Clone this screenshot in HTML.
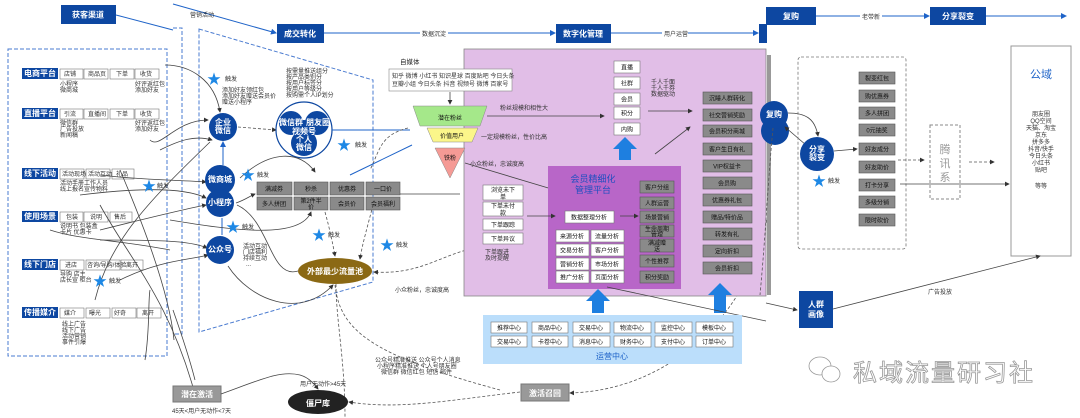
<!DOCTYPE html>
<html><head><meta charset="utf-8"><style>
html,body{margin:0;padding:0;background:#fff;}
svg{display:block;font-family:"Liberation Sans","Noto Sans CJK SC",sans-serif;}
.t{font-size:6px;fill:#333;}
.g{fill:#8a8a8a;stroke:#555;stroke-width:0.6;}
.gw{font-size:6px;fill:#111;text-anchor:middle;}
.w{fill:#fff;stroke:#777;stroke-width:0.6;}
.bb{fill:#0d47a1;}
.bt{fill:#fff;font-size:8px;font-weight:bold;text-anchor:middle;}
.ln{stroke:#444;stroke-width:0.8;fill:none;}
.dl{stroke:#555;stroke-width:0.8;fill:none;stroke-dasharray:3 2;}
.bl{stroke:#1e63c8;stroke-width:1;fill:none;}
</style></head><body>
<svg width="1080" height="418" viewBox="0 0 1080 418" xmlns="http://www.w3.org/2000/svg">
<defs>
<marker id="a" markerWidth="6" markerHeight="6" refX="5" refY="3" orient="auto"><path d="M0,0 L6,3 L0,6z" fill="#333"/></marker>
<marker id="ab" markerWidth="6" markerHeight="6" refX="5" refY="3" orient="auto"><path d="M0,0 L6,3 L0,6z" fill="#1e63c8"/></marker>
</defs>

<rect x="61" y="5" width="55" height="19" class="bb"/><text x="88" y="17.5" class="bt">获客渠道</text>
<line x1="116" y1="15" x2="173" y2="30" class="bl"/>
<line x1="173" y1="4" x2="276" y2="33" class="bl" marker-end="url(#ab)"/>
<text x="190" y="17" class="t" font-size="7">营销活动</text>
<rect x="277" y="24" width="47" height="19" class="bb"/><text x="300" y="36.5" class="bt">成交转化</text>
<line x1="324" y1="33" x2="555" y2="33" class="bl" marker-end="url(#ab)"/>
<rect x="420" y="29" width="28" height="8" fill="#fff"/><text x="422" y="36" class="t" fill="#666">数据沉淀</text>
<rect x="556" y="24" width="55" height="19" class="bb"/><text x="583" y="36.5" class="bt">数字化管理</text>
<line x1="611" y1="33" x2="758" y2="33" class="bl" marker-end="url(#ab)"/>
<rect x="662" y="29" width="26" height="8" fill="#fff"/><text x="664" y="36" class="t" fill="#666">用户运营</text>
<rect x="759" y="24" width="8" height="19" class="bb"/>
<rect x="766" y="7" width="50" height="18" class="bb"/><text x="791" y="19" class="bt">复购</text>
<line x1="816" y1="16" x2="929" y2="16" class="bl" marker-end="url(#ab)"/>
<rect x="860" y="12" width="22" height="8" fill="#fff"/><text x="862" y="19" class="t" fill="#666">老带新</text>
<rect x="930" y="7" width="56" height="18" class="bb"/><text x="958" y="19" class="bt">分享裂变</text>
<line x1="986" y1="16" x2="1066" y2="16" class="bl" marker-end="url(#ab)"/>

<rect x="8" y="49" width="159" height="307" fill="none" stroke="#4a7bd0" stroke-dasharray="4 2" stroke-width="1"/>
<polyline points="173,28 182,28 182,334 173,334" fill="none" stroke="#4a7bd0" stroke-dasharray="4 2" stroke-width="1"/>
<polygon points="199,29 373,80 373,282 199,332" fill="none" stroke="#4a7bd0" stroke-dasharray="4 2" stroke-width="1"/>

<g>
<rect x="22" y="68" width="36" height="11" class="bb"/><text x="40" y="76" class="bt" font-size="6">电商平台</text>
<rect x="60" y="69" width="23" height="10" class="w"/><rect x="84" y="69" width="24" height="10" class="w"/><rect x="110" y="69" width="24" height="10" class="w"/><rect x="135" y="69" width="24" height="10" class="w"/>
<text x="64" y="76" class="t" font-size="5">店铺</text><text x="88" y="76" class="t" font-size="5">商品页</text><text x="116" y="76" class="t" font-size="5">下单</text><text x="140" y="76" class="t" font-size="5">收货</text>
<text x="60" y="86" class="t" font-size="5">小程序</text><text x="60" y="92" class="t" font-size="5">微商城</text><text x="135" y="86" class="t" font-size="5">好评返红包</text><text x="135" y="92" class="t" font-size="5">添加好友</text>

<rect x="22" y="108" width="36" height="11" class="bb"/><text x="40" y="116" class="bt" font-size="6">直播平台</text>
<rect x="60" y="109" width="23" height="10" class="w"/><rect x="84" y="109" width="24" height="10" class="w"/><rect x="110" y="109" width="24" height="10" class="w"/><rect x="135" y="109" width="24" height="10" class="w"/>
<text x="64" y="116" class="t" font-size="5">引流</text><text x="88" y="116" class="t" font-size="5">直播间</text><text x="116" y="116" class="t" font-size="5">下单</text><text x="140" y="116" class="t" font-size="5">收货</text>
<text x="60" y="125" class="t" font-size="5">微信群</text><text x="60" y="131" class="t" font-size="5">广告投放</text><text x="60" y="137" class="t" font-size="5">新闻稿</text><text x="135" y="125" class="t" font-size="5">好评返红包</text><text x="135" y="131" class="t" font-size="5">添加好友</text>

<rect x="22" y="168" width="36" height="11" class="bb"/><text x="40" y="176" class="bt" font-size="6">线下活动</text>
<rect x="60" y="169" width="24" height="10" class="w"/><rect x="86" y="169" width="24" height="10" class="w"/><rect x="112" y="169" width="22" height="10" class="w"/>
<text x="62" y="176" class="t" font-size="5">活动现场</text><text x="88" y="176" class="t" font-size="5">活动互动</text><text x="116" y="176" class="t" font-size="5">礼品</text>
<text x="60" y="185" class="t" font-size="5">活动手册</text><text x="60" y="191" class="t" font-size="5">线上报名</text><text x="84" y="185" class="t" font-size="5">工作人员</text><text x="84" y="191" class="t" font-size="5">宣传物料</text>

<rect x="22" y="211" width="36" height="11" class="bb"/><text x="40" y="219" class="bt" font-size="6">使用场景</text>
<rect x="60" y="212" width="23" height="10" class="w"/><rect x="84" y="212" width="24" height="10" class="w"/><rect x="110" y="212" width="22" height="10" class="w"/>
<text x="66" y="219" class="t" font-size="5">包装</text><text x="90" y="219" class="t" font-size="5">说明</text><text x="114" y="219" class="t" font-size="5">售后</text>
<text x="60" y="228" class="t" font-size="5">说明书  包装盒</text><text x="60" y="234" class="t" font-size="5">卡片  优惠卡</text>

<rect x="22" y="259" width="36" height="11" class="bb"/><text x="40" y="267" class="bt" font-size="6">线下门店</text>
<rect x="60" y="260" width="24" height="10" class="w"/><rect x="86" y="260" width="34" height="10" class="w"/><rect x="121" y="260" width="22" height="10" class="w"/>
<text x="65" y="267" class="t" font-size="5">进店</text><text x="87" y="267" class="t" font-size="5">咨询/导购/体验</text><text x="126" y="267" class="t" font-size="5">离开</text>
<text x="60" y="276" class="t" font-size="5">导购  店主</text><text x="60" y="282" class="t" font-size="5">店长宣  柜台</text>

<rect x="22" y="307" width="36" height="11" class="bb"/><text x="40" y="315" class="bt" font-size="6">传播媒介</text>
<rect x="60" y="308" width="24" height="10" class="w"/><rect x="86" y="308" width="24" height="10" class="w"/><rect x="112" y="308" width="24" height="10" class="w"/><rect x="137" y="308" width="24" height="10" class="w"/>
<text x="64" y="315" class="t" font-size="5">媒介</text><text x="89" y="315" class="t" font-size="5">曝光</text><text x="114" y="315" class="t" font-size="5">好奇</text><text x="142" y="315" class="t" font-size="5">离开</text>
<text x="62" y="326" class="t" font-size="5">线上广告</text><text x="62" y="332" class="t" font-size="5">线下广告</text><text x="62" y="338" class="t" font-size="5">活动营销</text><text x="62" y="344" class="t" font-size="5">事件引爆</text>
</g>

<path d="M165,65 C190,65 215,80 220,112" class="ln" marker-end="url(#a)"/>
<path d="M150,140 C160,150 175,120 208,120" class="ln" marker-end="url(#a)"/>
<path d="M160,150 C180,140 195,135 212,140" class="ln" marker-end="url(#a)"/>
<path d="M100,175 C140,180 180,180 206,182" class="ln" marker-end="url(#a)"/>
<path d="M80,195 C120,190 180,185 206,198" class="ln" marker-end="url(#a)"/>
<path d="M100,230 C140,220 180,210 206,205" class="ln" marker-end="url(#a)"/>
<path d="M100,240 C150,240 190,240 207,248" class="ln" marker-end="url(#a)"/>
<path d="M120,280 C160,260 190,260 208,255" class="ln" marker-end="url(#a)"/>
<path d="M95,300 C110,240 150,200 210,142" class="ln"/>
<path d="M100,205 C130,260 170,300 196,398" class="ln" marker-end="url(#a)"/>
<path d="M120,170 C150,240 170,300 174,340" class="ln"/>
<path d="M145,360 C150,330 148,300 150,290" class="ln"/>
<path d="M50,230 C80,240 120,240 170,250" class="ln"/>
<path d="M173,310 C180,330 190,360 195,380" class="ln"/>

<circle cx="223" cy="127" r="14" class="bb"/><text x="223" y="125" class="bt" font-size="6">企业</text><text x="223" y="133" class="bt" font-size="6">微信</text>
<line x1="223" y1="165" x2="223" y2="142" stroke="#1e63c8" stroke-width="1" marker-end="url(#ab)"/>
<circle cx="220" cy="180" r="15" class="bb"/><text x="220" y="182" class="bt" font-size="6">微商城</text>
<circle cx="220" cy="203" r="14" class="bb"/><text x="220" y="205" class="bt" font-size="6">小程序</text>
<line x1="222" y1="218" x2="222" y2="235" stroke="#1e63c8" stroke-width="1"/>
<circle cx="220" cy="250" r="14" class="bb"/><text x="220" y="252" class="bt" font-size="6">公众号</text>
<text x="243" y="248" class="t" font-size="5">活动互动</text><text x="243" y="254" class="t" font-size="5">门店福利</text><text x="243" y="260" class="t" font-size="5">持续互动</text><text x="246" y="266" class="t" font-size="5">...</text>
<text x="222" y="92" class="t" font-size="5">添加好友领红包</text><text x="222" y="98" class="t" font-size="5">添加好友赠送会员价</text><text x="222" y="104" class="t" font-size="5">赠送小程序</text>

<line x1="238" y1="127" x2="276" y2="130" class="dl" marker-end="url(#a)"/>
<circle cx="304" cy="130" r="28" fill="#fff" stroke="#0d47a1" stroke-width="1.2"/>
<circle cx="291" cy="123" r="12" class="bb"/><circle cx="317" cy="123" r="12" class="bb"/><circle cx="304" cy="143" r="13" class="bb"/><circle cx="304" cy="129" r="9" class="bb"/>
<text x="291" y="125" class="bt" font-size="6">微信群</text><text x="318" y="125" class="bt" font-size="6">朋友圈</text><text x="304" y="134" class="bt" font-size="6">视频号</text><text x="304" y="142" class="bt" font-size="6">个人</text><text x="304" y="150" class="bt" font-size="6">微信</text>
<text x="286" y="73" class="t" font-size="5">按需量推送组分</text><text x="286" y="79" class="t" font-size="5">按产品类别分</text><text x="286" y="85" class="t" font-size="5">按用户标签分</text><text x="286" y="91" class="t" font-size="5">按用户等级分</text><text x="286" y="97" class="t" font-size="5">按购需个人IP划分</text>
<line x1="332" y1="130" x2="410" y2="130" class="bl"/>

<g>
<rect x="257" y="182" width="35" height="13" class="g"/><text x="274" y="191" class="gw">满减券</text>
<rect x="294" y="182" width="34" height="13" class="g"/><text x="311" y="191" class="gw">秒杀</text>
<rect x="330" y="182" width="34" height="13" class="g"/><text x="347" y="191" class="gw">优惠券</text>
<rect x="366" y="182" width="34" height="13" class="g"/><text x="383" y="191" class="gw">一口价</text>
<rect x="257" y="197" width="35" height="13" class="g"/><text x="274" y="206" class="gw">多人拼团</text>
<rect x="294" y="197" width="34" height="13" class="g"/><text x="311" y="203" class="gw">第2件半</text><text x="311" y="209" class="gw">价</text>
<rect x="330" y="197" width="34" height="13" class="g"/><text x="347" y="206" class="gw">会员价</text>
<rect x="366" y="197" width="34" height="13" class="g"/><text x="383" y="206" class="gw">会员福利</text>
</g>
<path d="M240,178 C270,150 300,150 315,172" class="ln" marker-end="url(#a)"/>
<path d="M236,203 C245,200 250,196 255,194" class="ln" marker-end="url(#a)"/>
<path d="M170,220 C230,230 300,240 311,212" class="ln" marker-end="url(#a)"/>
<path d="M400,194 L460,194" class="ln"/>
<path d="M325,212 C330,230 333,245 335,256" class="dl" marker-end="url(#a)"/>
<path d="M373,205 C368,225 362,245 360,259" class="dl" marker-end="url(#a)"/>
<path d="M237,205 C270,220 270,280 298,271" class="ln"/>
<path d="M228,266 C250,300 300,320 333,285" class="ln" marker-end="url(#a)"/>
<path d="M475,248 C440,255 420,275 374,272" class="dl" marker-end="url(#a)"/>
<ellipse cx="335" cy="271" rx="37" ry="13" fill="#8b6914"/><text x="335" y="274" class="bt" font-size="7">外部最少流量池</text>
<path d="M335,285 C340,330 370,355 500,390" class="dl"/>
<path d="M336,284 C336,320 345,360 345,418" class="dl"/>
<text x="375" y="362" class="t" font-size="5">公众号精准推送 公众号个人消息</text><text x="377" y="368" class="t" font-size="5">小程序精准推送 个人号朋友圈</text><text x="381" y="374" class="t" font-size="5">微信群 微信红包 短信 邮件</text>

<g fill="#1e88e5" font-size="5">
<text x="207" y="84" font-size="14">★</text><text x="225" y="81" class="t" font-size="5">触发</text>
<text x="337" y="150" font-size="14">★</text><text x="355" y="147" class="t" font-size="5">触发</text>
<text x="142" y="191" font-size="14">★</text><text x="157" y="188" class="t" font-size="5">触发</text>
<text x="241" y="180" font-size="14">★</text><text x="257" y="177" class="t" font-size="5">触发</text>
<text x="226" y="232" font-size="14">★</text><text x="242" y="229" class="t" font-size="5">触发</text>
<text x="312" y="240" font-size="14">★</text><text x="328" y="237" class="t" font-size="5">触发</text>
<text x="380" y="250" font-size="14">★</text><text x="396" y="247" class="t" font-size="5">触发</text>
<text x="93" y="286" font-size="14">★</text><text x="109" y="283" class="t" font-size="5">触发</text>
<text x="812" y="186" font-size="14">★</text><text x="828" y="183" class="t" font-size="5">触发</text>
</g>

<rect x="173" y="386" width="48" height="16" fill="#999" stroke="#777"/><text x="197" y="397" class="bt" font-size="8">潜在激活</text>
<text x="172" y="413" class="t" font-size="5">45天&lt;用户无动作&lt;7天</text>
<path d="M221,394 C260,380 280,370 300,375 C310,378 315,385 318,389" class="ln" marker-end="url(#a)"/>
<text x="300" y="386" class="t" font-size="5">用户无动作&gt;45天</text>
<ellipse cx="318" cy="402" rx="30" ry="12" fill="#222"/><text x="318" y="406" class="bt" font-size="8">僵尸库</text>
<path d="M520,392 C450,400 400,410 349,402" class="dl" marker-end="url(#a)"/>
<rect x="521" y="384" width="48" height="17" fill="#999" stroke="#777"/><text x="545" y="396" class="bt" font-size="8">激活召回</text>
<path d="M770,200 C760,300 680,390 570,393" class="dl" marker-end="url(#a)"/>

<rect x="767" y="55" width="4" height="240" fill="#999"/>
<rect x="464" y="49" width="302" height="247" fill="#e1bee7" stroke="#888" stroke-width="0.8"/>
<text x="400" y="64" font-size="6.5" fill="#222">自媒体</text>
<rect x="389" y="69" width="123" height="22" fill="#fff" stroke="#888" stroke-width="0.6"/>
<text x="392" y="78" class="t" font-size="5.5">知乎 微博 小红书 知识星球 百度贴吧 今日头条</text>
<text x="392" y="86" class="t" font-size="5.5">豆瓣小组 今日头条 抖音 视频号 微博 百家号</text>
<line x1="450" y1="92" x2="450" y2="104" class="ln" marker-end="url(#a)"/>
<polygon points="413,106 487,106 480,126 420,126" fill="#a5e88a" stroke="#888" stroke-width="0.5"/><text x="450" y="120" class="gw">潜在粉丝</text>
<polygon points="427,128 478,128 472,142 433,142" fill="#fbf68a" stroke="#888" stroke-width="0.5"/><text x="452" y="138" class="gw">价值用户</text>
<polygon points="435,148 465,148 450,178" fill="#f59a95" stroke="#888" stroke-width="0.5"/><text x="450" y="160" class="gw">铁粉</text>
<text x="500" y="110" class="t" font-size="5">粉丝规模和相性大</text>
<line x1="487" y1="116" x2="604" y2="116" class="ln" marker-end="url(#a)"/>
<text x="481" y="139" class="t" font-size="5">一定规模粉丝，性价比高</text>
<text x="470" y="166" class="t" font-size="5">小众粉丝，忠诚度高</text>
<line x1="465" y1="163" x2="555" y2="190" class="ln" marker-end="url(#a)"/>
<path d="M408,128 C380,135 380,150 370,170" class="dl"/>
<path d="M350,175 L412,145" class="bl"/>

<rect x="614" y="61" width="26" height="12" class="w"/><text x="627" y="69.5" class="gw">直播</text>
<rect x="614" y="77" width="26" height="12" class="w"/><text x="627" y="85.5" class="gw">社群</text>
<rect x="614" y="93" width="26" height="12" class="w"/><text x="627" y="101.5" class="gw">会员</text>
<rect x="614" y="107" width="26" height="12" class="w"/><text x="627" y="115.5" class="gw">积分</text>
<rect x="614" y="123" width="26" height="12" class="w"/><text x="627" y="131.5" class="gw">内购</text>
<text x="651" y="84" class="t" font-size="5">千人千面</text><text x="651" y="90" class="t" font-size="5">千人千券</text><text x="651" y="96" class="t" font-size="5">数据驱动</text>
<line x1="648" y1="111" x2="692" y2="111" class="ln" marker-end="url(#a)"/>
<line x1="655" y1="154" x2="690" y2="127" class="ln" marker-end="url(#a)"/>
<polygon points="625,137 637,149 631,149 631,160 619,160 619,149 613,149" fill="#1e7fe0"/>

<g>
<rect x="703" y="92" width="49" height="12" class="g"/><text x="727" y="100.5" class="gw">沉睡人群转化</text>
<rect x="703" y="109" width="49" height="12" class="g"/><text x="727" y="117.5" class="gw">社交营销奖励</text>
<rect x="703" y="125" width="49" height="12" class="g"/><text x="727" y="133.5" class="gw">会员积分商城</text>
<rect x="703" y="143" width="49" height="12" class="g"/><text x="727" y="151.5" class="gw">客户生日有礼</text>
<rect x="703" y="160" width="49" height="12" class="g"/><text x="727" y="168.5" class="gw">VIP权益卡</text>
<rect x="703" y="177" width="49" height="12" class="g"/><text x="727" y="185.5" class="gw">会员购</text>
<rect x="703" y="194" width="49" height="12" class="g"/><text x="727" y="202.5" class="gw">优惠券礼包</text>
<rect x="703" y="211" width="49" height="12" class="g"/><text x="727" y="219.5" class="gw">赠品/特价品</text>
<rect x="703" y="228" width="49" height="12" class="g"/><text x="727" y="236.5" class="gw">转发有礼</text>
<rect x="703" y="245" width="49" height="12" class="g"/><text x="727" y="253.5" class="gw">定向折扣</text>
<rect x="703" y="262" width="49" height="12" class="g"/><text x="727" y="270.5" class="gw">会员折扣</text>
</g>
<polygon points="720,283 732,295 726,295 726,313 714,313 714,295 708,295" fill="#1e7fe0"/>

<rect x="548" y="166" width="133" height="123" fill="#b866c8"/>
<text x="593" y="182" font-size="9" fill="#1e4fc0" text-anchor="middle">会员精细化</text>
<text x="593" y="193" font-size="9" fill="#1e4fc0" text-anchor="middle">管理平台</text>
<rect x="483" y="185" width="40" height="15" class="w"/><text x="503" y="192" class="gw">浏览未下</text><text x="503" y="199" class="gw">单</text>
<rect x="483" y="202" width="40" height="14" class="w"/><text x="503" y="208" class="gw">下单未付</text><text x="503" y="215" class="gw">款</text>
<rect x="483" y="219" width="40" height="11" class="w"/><text x="503" y="227" class="gw">下单跟踪</text>
<rect x="483" y="233" width="40" height="11" class="w"/><text x="503" y="241" class="gw">下单异议</text>
<text x="485" y="254" class="t" font-size="5" fill="#7a4aa0">下单跟进</text><text x="485" y="260" class="t" font-size="5" fill="#7a4aa0">及时提醒</text>
<text x="395" y="292" class="t" font-size="5">小众粉丝，忠诚度高</text>
<line x1="527" y1="216" x2="555" y2="216" class="ln" marker-end="url(#a)"/>
<rect x="565" y="211" width="49" height="12" class="w"/><text x="589" y="219.5" class="gw">数据整理分析</text>
<line x1="620" y1="216" x2="638" y2="216" class="ln" marker-end="url(#a)"/>
<g>
<rect x="556" y="230" width="33" height="12" class="w"/><text x="572" y="238.5" class="gw">来源分析</text>
<rect x="591" y="230" width="33" height="12" class="w"/><text x="607" y="238.5" class="gw">流量分析</text>
<rect x="556" y="244" width="33" height="12" class="w"/><text x="572" y="252.5" class="gw">交易分析</text>
<rect x="591" y="244" width="33" height="12" class="w"/><text x="607" y="252.5" class="gw">客户分析</text>
<rect x="556" y="258" width="33" height="12" class="w"/><text x="572" y="266.5" class="gw">营销分析</text>
<rect x="591" y="258" width="33" height="12" class="w"/><text x="607" y="266.5" class="gw">市场分析</text>
<rect x="556" y="271" width="33" height="12" class="w"/><text x="572" y="279.5" class="gw">推广分析</text>
<rect x="591" y="271" width="33" height="12" class="w"/><text x="607" y="279.5" class="gw">页面分析</text>
</g>
<g>
<rect x="640" y="181" width="34" height="12" class="g"/><text x="657" y="189.5" class="gw">客户分组</text>
<rect x="640" y="197" width="34" height="12" class="g"/><text x="657" y="205.5" class="gw">人群运营</text>
<rect x="640" y="211" width="34" height="12" class="g"/><text x="657" y="219.5" class="gw">场景营销</text>
<rect x="640" y="225" width="34" height="12" class="g"/><text x="657" y="231" class="gw">生命周期</text><text x="657" y="236.5" class="gw">管理</text>
<rect x="640" y="239" width="34" height="13" class="g"/><text x="657" y="245" class="gw">满减赠</text><text x="657" y="251" class="gw">送</text>
<rect x="640" y="255" width="34" height="12" class="g"/><text x="657" y="263.5" class="gw">个性推荐</text>
<rect x="640" y="271" width="34" height="12" class="g"/><text x="657" y="279.5" class="gw">积分奖励</text>
</g>
<polygon points="598,289 610,301 604,301 604,313 592,313 592,301 586,301" fill="#1e7fe0"/>
<line x1="607" y1="287" x2="766" y2="321" class="ln"/>
<line x1="766" y1="303" x2="797" y2="310" class="ln" marker-end="url(#a)"/>

<rect x="483" y="315" width="259" height="49" fill="#bbdefb"/>
<g>
<rect x="491" y="322" width="36" height="11" class="w"/><text x="509" y="330" class="gw">推荐中心</text>
<rect x="532" y="322" width="36" height="11" class="w"/><text x="550" y="330" class="gw">商品中心</text>
<rect x="573" y="322" width="37" height="11" class="w"/><text x="591" y="330" class="gw">交易中心</text>
<rect x="614" y="322" width="37" height="11" class="w"/><text x="632" y="330" class="gw">物流中心</text>
<rect x="655" y="322" width="37" height="11" class="w"/><text x="673" y="330" class="gw">监控中心</text>
<rect x="696" y="322" width="37" height="11" class="w"/><text x="714" y="330" class="gw">模板中心</text>
<rect x="491" y="336" width="36" height="11" class="w"/><text x="509" y="344" class="gw">交易中心</text>
<rect x="532" y="336" width="36" height="11" class="w"/><text x="550" y="344" class="gw">卡卷中心</text>
<rect x="573" y="336" width="37" height="11" class="w"/><text x="591" y="344" class="gw">消息中心</text>
<rect x="614" y="336" width="37" height="11" class="w"/><text x="632" y="344" class="gw">财务中心</text>
<rect x="655" y="336" width="37" height="11" class="w"/><text x="673" y="344" class="gw">支付中心</text>
<rect x="696" y="336" width="37" height="11" class="w"/><text x="714" y="344" class="gw">订单中心</text>
</g>
<text x="612" y="359" font-size="8" fill="#1e63c8" text-anchor="middle">运营中心</text>

<circle cx="775" cy="131" r="14" class="bb"/>
<circle cx="774" cy="115" r="14" class="bb"/><text x="774" y="117" class="bt" font-size="5">复购</text>
<path d="M788,113 C805,113 815,118 818,136" class="ln" marker-end="url(#a)"/>
<line x1="806" y1="145" x2="785" y2="127" class="ln" marker-end="url(#a)"/>
<path d="M773,128 C768,180 766,230 760,295" class="dl"/>
<rect x="798" y="57" width="108" height="192" rx="3" fill="none" stroke="#777" stroke-dasharray="3 2" stroke-width="0.8"/>
<circle cx="817" cy="154" r="17" class="bb"/><text x="817" y="152" class="bt" font-size="6">分享</text><text x="817" y="160" class="bt" font-size="6">裂变</text>
<line x1="834" y1="151" x2="857" y2="149" class="ln" marker-end="url(#a)"/>
<g>
<rect x="859" y="72" width="36" height="12" class="g"/><text x="877" y="80.5" class="gw">裂变红包</text>
<rect x="859" y="90" width="36" height="12" class="g"/><text x="877" y="98.5" class="gw">购优惠券</text>
<rect x="859" y="107" width="36" height="12" class="g"/><text x="877" y="115.5" class="gw">多人拼团</text>
<rect x="859" y="124" width="36" height="12" class="g"/><text x="877" y="132.5" class="gw">0元抽奖</text>
<rect x="859" y="143" width="36" height="12" class="g"/><text x="877" y="151.5" class="gw">好友成分</text>
<rect x="859" y="161" width="36" height="12" class="g"/><text x="877" y="169.5" class="gw">好友助价</text>
<rect x="859" y="179" width="36" height="12" class="g"/><text x="877" y="187.5" class="gw">打卡分享</text>
<rect x="859" y="196" width="36" height="12" class="g"/><text x="877" y="204.5" class="gw">多级分销</text>
<rect x="859" y="214" width="36" height="12" class="g"/><text x="877" y="222.5" class="gw">限时砍价</text>
</g>
<line x1="898" y1="160" x2="924" y2="160" class="dl" marker-end="url(#a)"/>
<line x1="900" y1="184" x2="1009" y2="184" class="ln" marker-end="url(#a)"/>
<rect x="930" y="125" width="30" height="74" fill="none" stroke="#888" stroke-dasharray="3 2"/>
<text x="945" y="153" font-size="11" fill="#999" text-anchor="middle">腾</text>
<text x="945" y="167" font-size="11" fill="#999" text-anchor="middle">讯</text>
<text x="945" y="181" font-size="11" fill="#999" text-anchor="middle">系</text>
<line x1="969" y1="162" x2="994" y2="162" class="dl" marker-end="url(#a)"/>
<rect x="1011" y="46" width="60" height="210" fill="#fff" stroke="#999"/>
<text x="1041" y="78" font-size="11" fill="#1e63c8" text-anchor="middle">公域</text>
<g class="t" font-size="5.5" text-anchor="middle">
<text x="1041" y="116">朋友圈</text><text x="1041" y="123">QQ空间</text><text x="1041" y="130">天猫、淘宝</text><text x="1041" y="137">京东</text><text x="1041" y="144">拼多多</text><text x="1041" y="151">抖音/快手</text><text x="1041" y="158">今日头条</text><text x="1041" y="165">小红书</text><text x="1041" y="172">贴吧</text><text x="1041" y="188">等等</text>
</g>
<rect x="799" y="291" width="34" height="37" class="bb"/><text x="816" y="307" class="bt" font-size="7">人群</text><text x="816" y="317" class="bt" font-size="7">画像</text>
<line x1="833" y1="309" x2="1040" y2="256" class="ln" marker-end="url(#a)"/>
<text x="928" y="294" class="t" font-size="6">广告投放</text>

<g fill="#fff" stroke="#999" stroke-width="0.8">
<ellipse cx="820" cy="366" rx="11" ry="9"/><ellipse cx="831" cy="374" rx="9" ry="8"/>
</g>
<text x="853" y="381" font-size="24" fill="#fff" stroke="#999" stroke-width="0.8" letter-spacing="2">私域流量研习社</text>
</svg>
</body></html>
